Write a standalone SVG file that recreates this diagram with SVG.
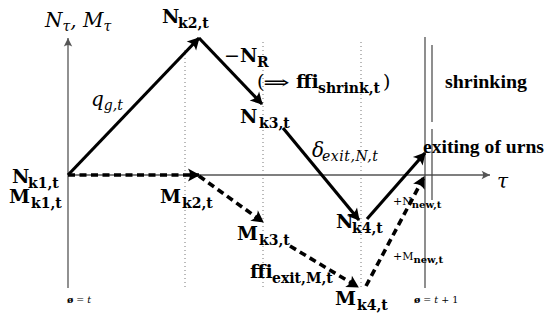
<svg xmlns="http://www.w3.org/2000/svg" width="550" height="324" viewBox="0 0 550 324">
<style>
.ax{stroke:#555;stroke-width:1.3;fill:none}
.dot{stroke:#777;stroke-width:1;stroke-dasharray:1 3;fill:none}
.vl{stroke:#444;stroke-width:1.2;fill:none}
.n{stroke:#000;stroke-width:3.2;fill:none}
.m{stroke:#000;stroke-width:3.6;stroke-dasharray:7 4.5;fill:none}
.b{font-family:"DejaVu Serif","Liberation Serif",serif;font-weight:bold;font-size:19px;fill:#000}
.lb{font-family:"Liberation Serif","DejaVu Serif",serif;font-weight:bold;font-size:19px;fill:#000}
.s{font-size:14px}
.i{font-family:"DejaVu Serif","Liberation Serif",serif;font-style:italic;font-size:20px;fill:#000}
.si{font-size:14px}
.nw{font-weight:normal}
.sm{font-family:"DejaVu Serif","Liberation Serif",serif;font-size:11px;fill:#000}
.sms{font-size:10px;font-weight:bold}
.tiny{font-family:"DejaVu Serif","Liberation Serif",serif;font-size:9.5px;fill:#000}
</style>
<defs>
<marker id="ah" markerUnits="userSpaceOnUse" markerWidth="16" markerHeight="16" refX="0" refY="0" viewBox="-12 -8 16 16" orient="auto" overflow="visible">
<path d="M1,0 L-11,-6.5 Q-7,0 -11,6.5 Z" fill="#000"/>
</marker>
<marker id="axh" markerUnits="userSpaceOnUse" markerWidth="12" markerHeight="12" refX="0" refY="0" viewBox="-8 -5 10 10" orient="auto" overflow="visible">
<path d="M0,0 L-7,-3.5 Q-4.5,0 -7,3.5 Z" fill="#555"/>
</marker>
</defs>
<g id="axes">
<line class="ax" x1="68" y1="288" x2="68" y2="38" marker-end="url(#axh)"/>
<line class="ax" x1="68" y1="175" x2="490" y2="175" marker-end="url(#axh)"/>
<line class="dot" x1="185" y1="50" x2="185" y2="288"/>
<line class="dot" x1="263" y1="42" x2="263" y2="288"/>
<line class="dot" x1="361" y1="42" x2="361" y2="288"/>
<line class="vl" x1="425" y1="37" x2="425" y2="288"/>
<line class="vl" x1="432" y1="45" x2="432" y2="122"/>
<line class="vl" x1="432" y1="129" x2="432" y2="200"/>
</g>
<g id="connectors">
<line class="n" x1="68" y1="175" x2="199" y2="38" marker-end="url(#ah)"/>
<line class="n" x1="199" y1="38" x2="262" y2="104" marker-end="url(#ah)"/>
<line class="n" x1="283" y1="128" x2="359" y2="220" marker-end="url(#ah)"/>
<line class="n" x1="367" y1="219" x2="425" y2="153" marker-end="url(#ah)"/>
<line class="m" x1="68" y1="175" x2="199" y2="175" marker-end="url(#ah)"/>
<line class="m" x1="199" y1="176" x2="263" y2="222" marker-end="url(#ah)"/>
<line class="m" x1="290" y1="246" x2="358" y2="287" marker-end="url(#ah)"/>
<line class="m" x1="366" y1="286" x2="424" y2="177" marker-end="url(#ah)"/>
</g>
<g id="labels">
<text class="i" x="45" y="27">N<tspan class="si" dy="4">τ</tspan><tspan dy="-4">, M</tspan><tspan class="si" dy="4">τ</tspan></text>
<text class="b" x="162" y="23">N<tspan class="s" x="178" dy="5">k2,t</tspan></text>
<text class="i" x="91" y="106">q<tspan class="si" dy="4">g,t</tspan></text>
<text class="b" x="224" y="62"><tspan class="nw">−</tspan><tspan x="240">N</tspan><tspan class="s" x="257" dy="5">R</tspan></text>
<text class="b" x="257" y="88"><tspan class="nw">(</tspan></text>
<text class="b nw" x="263" y="89" font-size="20" textLength="27" lengthAdjust="spacingAndGlyphs">⇒</text>
<text class="b" x="296" y="88">ffi<tspan class="s" x="318" dy="5">shrink,t</tspan><tspan class="nw" x="383" dy="-5">)</tspan></text>
<text class="b" x="240" y="123">N<tspan class="s" x="259" dy="5">k3,t</tspan></text>
<text class="i" x="312" y="157">δ<tspan class="si" x="322" dy="4" textLength="56">exit,N,t</tspan></text>
<text class="lb" x="445" y="88" textLength="82" lengthAdjust="spacingAndGlyphs">shrinking</text>
<text class="lb" x="423" y="153" textLength="121" lengthAdjust="spacingAndGlyphs">exiting of urns</text>
<text class="i" x="497" y="188">τ</text>
<text class="b" x="12" y="183">N<tspan class="s" x="28" dy="5">k1,t</tspan></text>
<text class="b" x="9" y="203">M<tspan class="s" x="31" dy="5">k1,t</tspan></text>
<text class="b" x="160" y="203">M<tspan class="s" x="182" dy="5">k2,t</tspan></text>
<text class="b" x="237" y="240">M<tspan class="s" x="259" dy="5">k3,t</tspan></text>
<text class="b" x="250" y="278">ffi<tspan class="s" x="272" dy="5">exit,M,t</tspan></text>
<text class="b" x="336" y="228">N<tspan class="s" x="352" dy="5">k4,t</tspan></text>
<text class="b" x="335" y="305">M<tspan class="s" x="357" dy="5">k4,t</tspan></text>
<text class="sm" x="393" y="205">+N<tspan class="sms" dy="3">new,t</tspan></text>
<text class="sm" x="393" y="260">+M<tspan class="sms" dy="3">new,t</tspan></text>
<text class="tiny" x="67" y="303"><tspan font-weight="bold">ø</tspan> = <tspan font-style="italic">t</tspan></text>
<text class="tiny" x="414" y="303"><tspan font-weight="bold">ø</tspan> = <tspan font-style="italic">t</tspan> + 1</text>
</g>
</svg>
